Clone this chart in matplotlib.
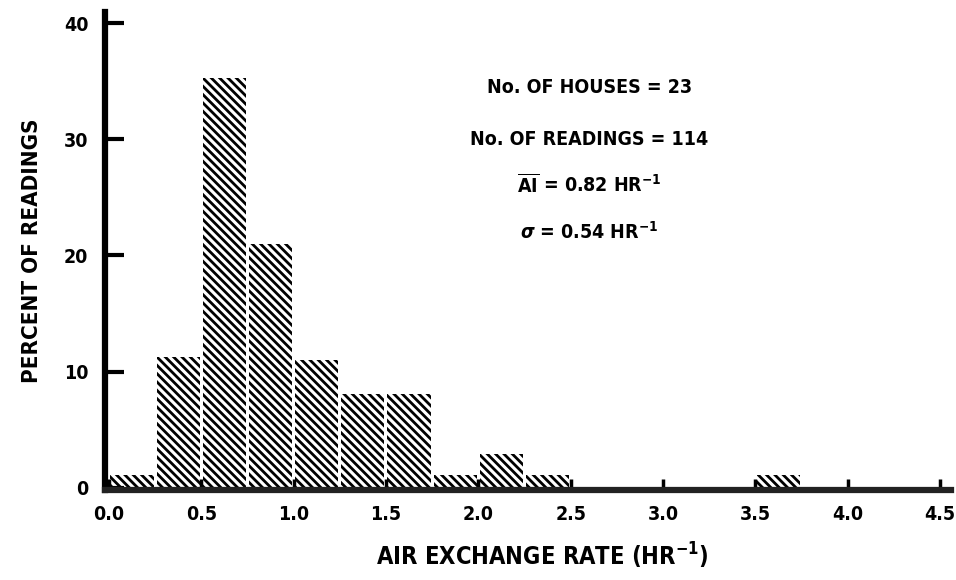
import numpy as np
import matplotlib
matplotlib.use('Agg')
import matplotlib.pyplot as plt

# datos (porcentaje de lecturas por intervalo de 0.25 h-1)
bin_left = [0.0, 0.25, 0.5, 0.75, 1.0, 1.25, 1.5, 1.75, 2.0, 2.25, 2.5, 2.75, 3.0, 3.25, 3.5, 3.75, 4.0, 4.25]
percent = [1.1, 11.3, 35.3, 21.0, 11.0, 8.1, 8.1, 1.1, 2.9, 1.1, 0, 0, 0, 0, 1.1, 0, 0, 0]

x_ticks = [0.0, 0.5, 1.0, 1.5, 2.0, 2.5, 3.0, 3.5, 4.0, 4.5]
x_tick_labels = ['0.0', '0.5', '1.0', '1.5', '2.0', '2.5', '3.0', '3.5', '4.0', '4.5']
y_ticks = [0, 10, 20, 30, 40]

stats_lines = [u"No. OF HOUSES = 23",
               u"No. OF READINGS = 114",
               r"$\overline{\mathrm{AI}}$ = 0.82 HR$^{-1}$",
               r"$\sigma$ = 0.54 HR$^{-1}$"]
stats_y = [34.5, 30.0, 26.1, 22.0]

plt.rcParams['font.family'] = ['DejaVu Sans']
plt.rcParams['font.weight'] = 'bold'
plt.rcParams['font.stretch'] = 'condensed'
plt.rcParams['mathtext.fontset'] = 'dejavusans'
plt.rcParams['hatch.linewidth'] = 2.0

fig = plt.figure(figsize=(9.56, 5.8), dpi=100)
ax = fig.add_axes([0.11, 0.155, 0.885, 0.825])

gap = 0.016
ax.bar(np.array(bin_left) + gap / 2, percent, width=0.25 - gap, align='edge',
       facecolor='white', edgecolor='black', linewidth=0, hatch='\\\\\\\\')

ax.set_xlim(-0.02, 4.56)
ax.set_ylim(-0.2, 41)

for s in ['top', 'right']:
  ax.spines[s].set_visible(False)
ax.spines['left'].set_linewidth(4.5)
ax.spines['bottom'].set_linewidth(4.5)
ax.spines['bottom'].set_color('#222222')

ax.set_xticks(x_ticks)
ax.set_xticklabels(x_tick_labels, fontsize=14, fontweight='bold')
ax.set_yticks(y_ticks)
ax.set_yticklabels([str(v) for v in y_ticks], fontsize=14, fontweight='bold')
ax.tick_params(axis='y', direction='in', length=14, width=3, pad=12)
ax.tick_params(axis='x', direction='in', length=8, width=2.5, pad=11)

ax.set_xlabel(u"AIR EXCHANGE RATE (HR$^{-1}$)", fontsize=17, fontweight='bold', labelpad=12)
ax.xaxis.label.set_x(0.517)
ax.set_ylabel(u"PERCENT OF READINGS", fontsize=16, fontweight='bold', labelpad=16)

for txt, yy in zip(stats_lines, stats_y):
  ax.text(2.6, yy, txt, ha='center', va='center', fontsize=14, fontweight='bold')

plt.savefig('out.png', dpi=100)
